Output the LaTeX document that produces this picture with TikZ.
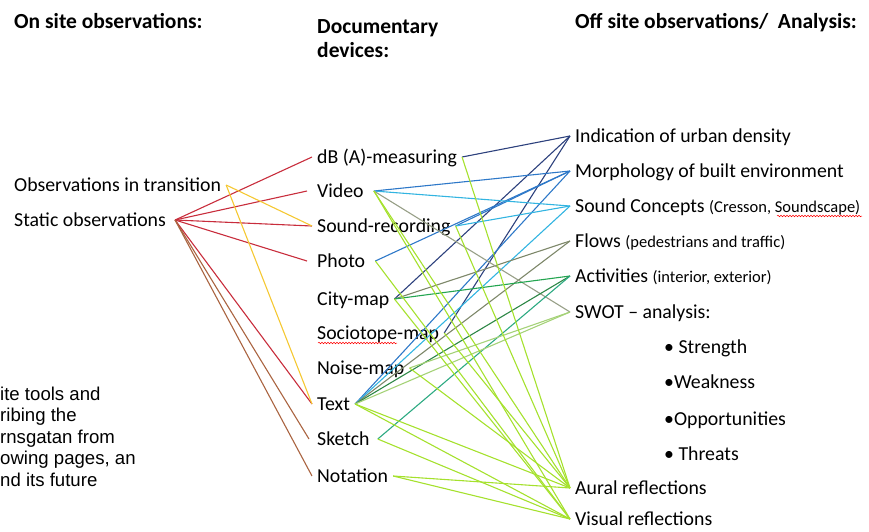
\documentclass[tikz,border=0pt]{standalone}
\usepackage{fontspec}
\setmainfont{Carlito}
\newfontfamily\arialfont{Liberation Sans}
\usetikzlibrary{decorations.pathmorphing}

\definecolor{lnred}{RGB}{200,45,60}
\definecolor{lnyellow}{RGB}{245,200,50}
\definecolor{lnbrown}{RGB}{170,100,65}
\definecolor{lnnavy}{RGB}{45,65,125}
\definecolor{lnblue}{RGB}{45,120,200}
\definecolor{lnsky}{RGB}{50,180,225}
\definecolor{lnolive}{RGB}{125,135,105}
\definecolor{lngreen}{RGB}{35,165,80}
\definecolor{lndkgreen}{RGB}{45,135,70}
\definecolor{lnteal}{RGB}{45,170,130}
\definecolor{lnlime}{RGB}{165,225,45}
\definecolor{lnpale}{RGB}{165,210,120}

\tikzset{
	head/.style={font=\fontsize{21.5}{25}\selectfont\bfseries, anchor=base west, inner sep=0pt, align=left},
	item/.style={font=\fontsize{19.8}{23}\selectfont, anchor=base west, inner xsep=5pt, inner ysep=0pt, text height=13pt, text depth=1pt},
	side/.style={font=\arialfont\fontsize{18.6}{21.5}\selectfont, anchor=base west, inner sep=0pt},
	link/.style={line width=1.1pt},
	typo/.style={draw=red, line width=0.5pt, decorate, decoration={snake, amplitude=0.8pt, segment length=3pt}}
}
\newcommand{\smalltxt}[1]{{\fontsize{16.5}{20}\selectfont #1}}

\begin{document}
\begin{tikzpicture}[x=1pt,y=-1pt]
			\useasboundingbox (0,0) rectangle (869,531);
			\node[head] (onsite) at (14,28) {On site observations:};
			\node[head, anchor=north west] (devices) at (317,19) {Documentary\\[-1pt]devices:};
			\node[head] (offsite) at (575,28) {Off site observations/\ \ Analysis:};

			\node[item] (trans) at (9,191) {Observations in transition};
			\node[item, inner xsep=9pt] (static) at (5,226) {Static observations};

			\node[item] (dba) at (312,163) {dB (A)-measuring};
			\node[item, inner xsep=10pt] (video) at (307,197) {Video};
			\node[item] (sndrec) at (312,232) {Sound-recording};
			\node[item, inner xsep=10pt] (photo) at (307,267) {Photo};
			\node[item] (city) at (312,305) {City-map};
			\node[item] (socio) at (312,339) {Sociotope-map};
			\node[item] (noise) at (312,374) {Noise-map};
			\node[item] (text) at (312,410) {Text};
			\node[item, inner xsep=8pt] (sketch) at (309,445) {Sketch};
			\node[item] (notation) at (312,482) {Notation};

			\node[item] (indic) at (570,142) {Indication of urban density};
			\node[item] (morph) at (570,177) {Morphology of built environment};
			\node[item] (sndcon) at (570,212) {Sound Concepts \smalltxt{(Cresson, Soundscape)}};
			\node[item] (flows) at (570,247) {Flows \smalltxt{(pedestrians and traffic)}};
			\node[item] (activ) at (570,282) {Activities \smalltxt{(interior, exterior)}};
			\node[item] (swot) at (570,318) {SWOT -- analysis:};
			\node[item] (strength) at (659,353) {• Strength};
			\node[item] (weak) at (659,388) {•Weakness};
			\node[item] (opp) at (659,425) {•Opportunities};
			\node[item] (threats) at (659,460) {• Threats};
			\node[item] (aural) at (570,494) {Aural reflections};
			\node[item] (visual) at (570,525) {Visual reflections};

			\node[side] (side1) at (0,400) {ite tools and};
			\node[side] (side2) at (0,421.5) {ribing the};
			\node[side] (side3) at (0,443) {rnsgatan from};
			\node[side] (side4) at (0,464.5) {owing pages, an};
			\node[side] (side5) at (0,486) {nd its future};

			\draw[typo] (318,343)--(397,343);
			\draw[typo] (777,216)--(862,216);

			\foreach \dev in {dba,video,sndrec,photo,text} \draw[link,lnred] (static.east)--(\dev.west);
			\foreach \dev in {sndrec,text} \draw[link,lnyellow] (trans.east)--(\dev.west);
			\foreach \dev in {sketch,notation} \draw[link,lnbrown] (static.east)--(\dev.west);
			\foreach \dev in {dba,city,socio} \draw[link,lnnavy] (\dev.east)--(indic.west);
			\foreach \dev in {video,sndrec,photo,text} \draw[link,lnblue] (\dev.east)--(morph.west);
			\foreach \dev in {video,sndrec,text} \draw[link,lnsky] (\dev.east)--(sndcon.west);
			\foreach \dev in {city,text} \draw[link,lnolive] (\dev.east)--(flows.west);
			\draw[link,lnolive!80] (video.east)--(swot.west);
			\draw[link,lngreen] (city.east)--(activ.west);
			\draw[link,lndkgreen] (text.east)--(activ.west);
			\draw[link,lnteal] (sketch.east)--(activ.west);
			\foreach \dev in {text,noise} \draw[link,lnpale] (\dev.east)--(swot.west);
			\foreach \dev in {dba,video,sndrec,socio,noise,text,notation} \draw[link,lnlime] (\dev.east)--(aural.west);
			\foreach \dev in {video,photo,city,text,sketch,notation} \draw[link,lnlime] (\dev.east)--(visual.west);
		\end{tikzpicture}
\end{document}
